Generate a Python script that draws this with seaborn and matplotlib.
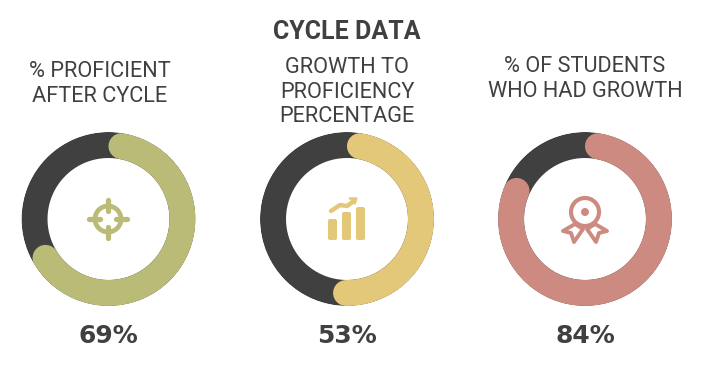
import numpy as np
import pandas as pd
import seaborn as sns
from matplotlib import pyplot as plt
from matplotlib.patches import Circle, Polygon, FancyBboxPatch

title = 'CYCLE DATA'
labels = ['% PROFICIENT\nAFTER CYCLE', 'GROWTH TO\nPROFICIENCY\nPERCENTAGE', '% OF STUDENTS\nWHO HAD GROWTH']
values = [69, 53, 84]
colors = ['#b9bb77', '#e2c878', '#cc8a80']
dark = '#404040'

W, H = 710, 373
centers_x = [108.5, 347, 585]
center_y = 219
label_pos = [(100, 84), (347, 92), (585, 79)]
value_y = 336
R_OUT = 87
RING = 26
R_MID = 74

sns.set_theme(style='white')
plt.rcParams['font.family'] = ['Roboto', 'DejaVu Sans']

fig = plt.figure(figsize=(W / 100, H / 100), dpi=100, facecolor='white')


def arc(start, end, color, ax, cap):
    theta = np.radians(np.linspace(start, end, 200))
    df = pd.DataFrame({'theta': theta, 'r': R_MID / R_OUT})
    sns.lineplot(data=df, x='theta', y='r', ax=ax, color=color, sort=False, estimator=None,
                 linewidth=RING * 0.72, solid_capstyle=cap, legend=False)


cap_deg = np.degrees(13 / R_MID)
for cx, val, col in zip(centers_x, values, colors):
    ax = fig.add_axes([(cx - R_OUT) / W, 1 - (center_y + R_OUT) / H, 2 * R_OUT / W, 2 * R_OUT / H], projection='polar')
    ax.set_theta_zero_location('N')
    ax.set_theta_direction(-1)
    # start the dark ring inside the coloured arc so its seam is hidden
    arc(30, 390, dark, ax, 'butt')
    arc(cap_deg, val / 100 * 360 - cap_deg, col, ax, 'round')
    ax.set_ylim(0, 1)
    ax.set_xlabel('')
    ax.set_ylabel('')
    ax.set_xticks([])
    ax.set_yticks([])
    ax.grid(False)
    ax.spines['polar'].set_visible(False)
    ax.patch.set_alpha(0)

# overlay in pixel coords for text and icons
ov = fig.add_axes([0, 0, 1, 1])
ov.set_xlim(0, W)
ov.set_ylim(H, 0)
ov.axis('off')
ov.patch.set_alpha(0)

ov.text(347, 32, title, ha='center', va='center', fontsize=18, fontweight='bold', color=dark)
for (x, y), lab in zip(label_pos, labels):
    ov.text(x, y, lab, ha='center', va='center', fontsize=15.7, color=dark, linespacing=1.23)
for cx, val in zip(centers_x, values):
    ov.text(cx, value_y, f'{val}%', ha='center', va='center', fontsize=18, fontweight='bold',
            color=dark, family=['DejaVu Sans'])

# target icon
c = colors[0]
ov.add_patch(Circle((108, 219), 13, fill=False, ec=c, lw=3.4))
for dx, dy in [(0, -1), (0, 1), (-1, 0), (1, 0)]:
    ov.plot([108 + 8 * dx, 108 + 19 * dx], [219 + 8 * dy, 219 + 19 * dy], color=c, lw=3.8, solid_capstyle='round')

# bars icon
c = colors[1]
for x0, top in [(328, 219), (342, 212), (356, 207)]:
    ov.add_patch(FancyBboxPatch((x0 + 2, top + 2), 5, 240 - top - 4, boxstyle='round,pad=2', fc=c, ec='none'))
ov.plot([331, 340, 347, 354], [211, 205, 206, 201], color=c, lw=3.2, solid_capstyle='round')
ov.add_patch(Polygon([(349, 198), (357, 198), (355, 204)], fc=c, ec=c, lw=1))

# ribbon icon
c = colors[2]
ov.add_patch(Circle((585, 212), 14, fill=False, ec=c, lw=3))
ov.add_patch(Circle((585, 212), 4, fc=c, ec='none'))
ov.add_patch(Polygon([(575, 224), (563, 231), (571, 233), (574, 242), (583, 229)], fill=False, ec=c, lw=2.8, joinstyle='round'))
ov.add_patch(Polygon([(595, 224), (607, 231), (599, 233), (596, 242), (587, 229)], fill=False, ec=c, lw=2.8, joinstyle='round'))

fig.savefig('out.png', dpi=100, facecolor='white')
